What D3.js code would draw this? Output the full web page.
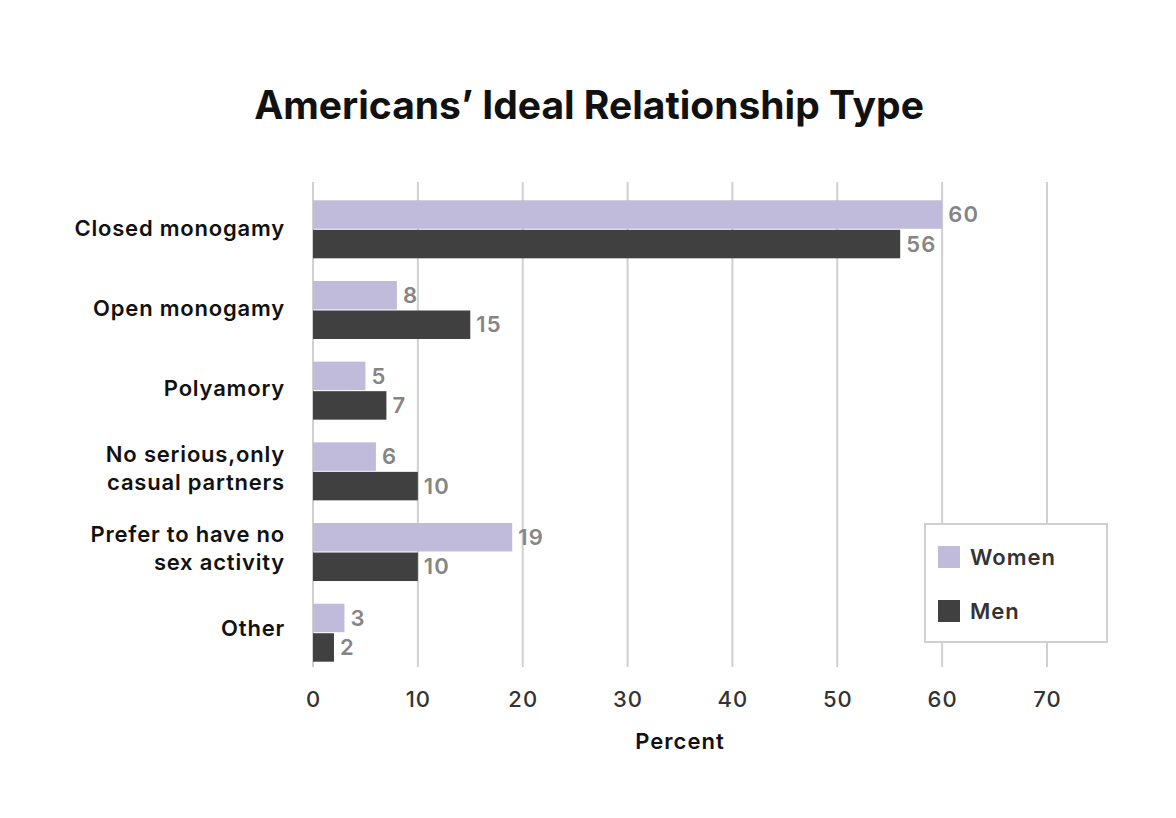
<!DOCTYPE html>
<html>
<head>
<meta charset="utf-8">
<script src="https://cdn.jsdelivr.net/npm/d3@7"></script>
<style>
  html, body { margin: 0; padding: 0; background: #fff; }
  svg { display: block; font-family: Inter, "Noto Sans", sans-serif; }
</style>
</head>
<body>
<svg id="chart" width="1176" height="818"></svg>
<script>
const categories = [
  ["Closed monogamy"],
  ["Open monogamy"],
  ["Polyamory"],
  ["No serious,only", "casual partners"],
  ["Prefer to have no", "sex activity"],
  ["Other"]
];
const seriesNames = ["Women", "Men"];
const women = [60, 8, 5, 6, 19, 3];
const men = [56, 15, 7, 10, 10, 2];
const xTicks = [0, 10, 20, 30, 40, 50, 60, 70];
const colors = ["#c0bbda", "#404040"];

const svg = d3.select("#chart");

const x = d3.scaleLinear().domain([0, 70]).range([313, 1047]);
const keys = categories.map((c, i) => i);
const y = d3.scaleBand().domain(keys).range([189, 673]).paddingInner(0.281).paddingOuter(0.14);
const yLab = d3.scaleBand().domain(keys).range([188, 668]);
const ySub = d3.scaleBand().domain([0, 1]).range([0, y.bandwidth()]).paddingInner(0.035);

// Title
svg.append("text")
  .attr("x", 589).attr("y", 119)
  .attr("text-anchor", "middle")
  .attr("font-size", 39).attr("font-weight", 700).attr("fill", "#111")
  .text("Americans\u2019 Ideal Relationship Type");

// Grid
svg.append("g").selectAll("line").data(xTicks).join("line")
  .attr("x1", d => x(d)).attr("x2", d => x(d))
  .attr("y1", 182).attr("y2", 667)
  .attr("stroke", "#d0d0d0").attr("stroke-width", 2);

// Axis tick labels
const axis = d3.axisBottom(x).tickValues(xTicks).tickSize(0).tickPadding(0);
const gAxis = svg.append("g").attr("transform", "translate(0,699)").call(axis);
gAxis.select(".domain").remove();
gAxis.selectAll("text")
  .attr("dy", "0.35em")
  .attr("font-family", "Inter, sans-serif")
  .attr("font-size", 22).attr("font-weight", 500).attr("fill", "#333")
  .attr("letter-spacing", 1);

svg.append("text")
  .attr("x", x(35)).attr("y", 741).attr("dy", "0.35em")
  .attr("text-anchor", "middle")
  .attr("font-size", 22).attr("font-weight", 600).attr("fill", "#111")
  .attr("letter-spacing", 1)
  .text("Percent");

// Bars
const data = keys.map(i => ({ i, vals: [women[i], men[i]] }));
const groups = svg.append("g").selectAll("g").data(data).join("g")
  .attr("transform", d => `translate(0,${y(d.i)})`);

groups.selectAll("rect").data(d => d.vals.map((v, s) => ({ v, s }))).join("rect")
  .attr("x", x(0))
  .attr("y", d => ySub(d.s))
  .attr("width", d => x(d.v) - x(0))
  .attr("height", ySub.bandwidth())
  .attr("fill", d => colors[d.s]);

groups.selectAll("text.val").data(d => d.vals.map((v, s) => ({ v, s }))).join("text")
  .attr("class", "val")
  .attr("x", d => x(d.v) + 6)
  .attr("y", d => ySub(d.s) + ySub.bandwidth() / 2)
  .attr("dy", "0.35em")
  .attr("font-size", 22).attr("font-weight", 600).attr("fill", "#858585")
  .attr("letter-spacing", 1.2)
  .text(d => d.v);

// Category labels
const catG = svg.append("g").selectAll("text").data(data).join("text")
  .attr("text-anchor", "end")
  .attr("font-size", 22).attr("font-weight", 600).attr("fill", "#111")
  .attr("letter-spacing", 0.8)
  .attr("x", 285)
  .attr("y", d => yLab(d.i) + yLab.bandwidth() / 2);
catG.each(function(d) {
  const lines = categories[d.i];
  const t = d3.select(this);
  const lh = 28;
  lines.forEach((ln, k) => {
    t.append("tspan")
      .attr("x", 285)
      .attr("dy", k === 0 ? `${0.35 * 22 - (lines.length - 1) * lh / 2}px` : `${lh}px`)
      .text(ln);
  });
});

// Legend
const lg = svg.append("g");
lg.append("rect").attr("x", 925).attr("y", 524).attr("width", 182).attr("height", 118)
  .attr("fill", "#fff").attr("stroke", "#d0d0d0").attr("stroke-width", 2);
seriesNames.forEach((n, k) => {
  lg.append("rect").attr("x", 938).attr("y", 546 + k * 54).attr("width", 22).attr("height", 22)
    .attr("fill", colors[k]);
  lg.append("text").attr("x", 970).attr("y", 557 + k * 54).attr("dy", "0.35em")
    .attr("font-size", 22).attr("font-weight", 600).attr("fill", "#333")
    .attr("letter-spacing", 1)
    .text(n);
});
</script>
</body>
</html>
